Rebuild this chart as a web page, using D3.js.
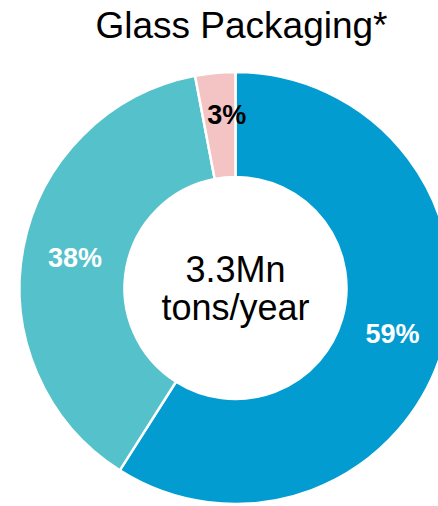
<!DOCTYPE html>
<html>
<head>
<meta charset="utf-8">
<script src="https://cdn.jsdelivr.net/npm/d3@7"></script>
<style>
  body { margin: 0; background: #fff; }
  svg { display: block; font-family: "Liberation Sans", Arial, sans-serif; }
</style>
</head>
<body>
<div class="chart"></div>
<script>
// chart data
var segments = ["Container", "Other", "Small"];
var shares = [59, 38, 3];
var segColors = ["#029cd1", "#55c1cb", "#f4c3c4"];
var labelColors = ["#ffffff", "#ffffff", "#000000"];
var title = "Glass Packaging*";
var centerLines = ["3.3Mn", "tons/year"];

var width = 438, height = 506;
var cx = 235.5, cy = 288;
var outerR = 216, innerR = 111;

var svg = d3.select(".chart").append("svg")
    .attr("width", width)
    .attr("height", height);

svg.append("text")
    .attr("x", 241.5)
    .attr("y", 38)
    .attr("text-anchor", "middle")
    .style("font-size", "37px")
    .attr("fill", "#000")
    .text(title);

var data = segments.map(function (d, i) {
    return {name: d, value: shares[i], color: segColors[i], lc: labelColors[i]};
});

var pie = d3.pie()
    .sort(null)
    .value(function (d) { return d.value; });

var arc = d3.arc()
    .innerRadius(innerR)
    .outerRadius(outerR);

var g = svg.append("g")
    .attr("transform", "translate(" + cx + "," + cy + ")");

var arcs = pie(data);

g.selectAll(".slice")
    .data(arcs)
    .enter().append("path")
    .attr("class", "slice")
    .attr("d", arc)
    .attr("fill", function (d) { return d.data.color; })
    .attr("stroke", "#fff")
    .attr("stroke-width", 2.5);

// percent labels, small slices pushed outward a bit
g.selectAll(".pct")
    .data(arcs)
    .enter().append("text")
    .attr("class", "pct")
    .attr("transform", function (d) {
        var c = arc.centroid(d);
        if (d.data.value < 5) {
            var a = d.endAngle - 0.05;
            c = [Math.sin(a) * 174 , -Math.cos(a) * 174];
        }
        return "translate(" + c[0] + "," + c[1] + ")";
    })
    .attr("text-anchor", "middle")
    .attr("dy", "0.36em")
    .style("font-size", "27px")
    .style("font-weight", "bold")
    .attr("fill", function (d) { return d.data.lc; })
    .text(function (d) { return d.data.value + "%"; });

// centre total, one text block with two lines
var ctext = g.append("text")
    .attr("class", "center")
    .attr("text-anchor", "middle")
    .style("font-size", "36px")
    .attr("fill", "#000");

ctext.selectAll("tspan")
    .data(centerLines)
    .enter().append("tspan")
    .attr("x", 0)
    .attr("y", function (d, i) { return -6 + i * 38; })
    .text(function (d) { return d; });
</script>
</body>
</html>
